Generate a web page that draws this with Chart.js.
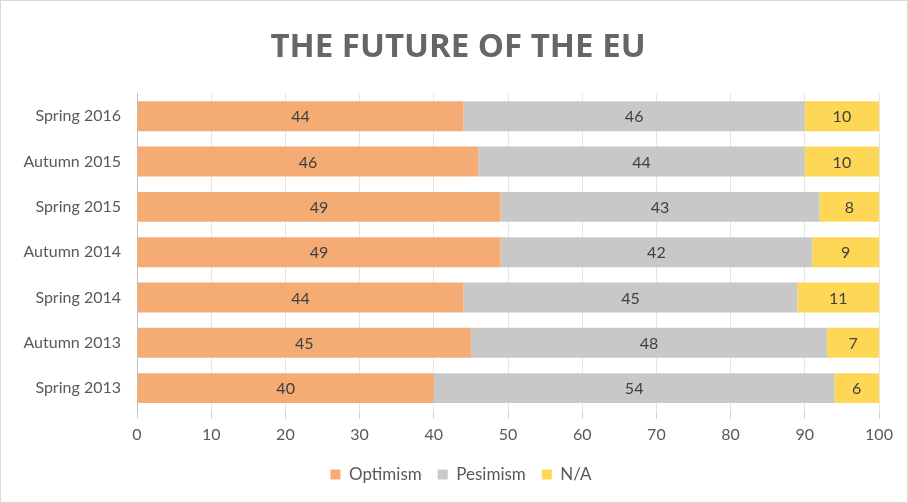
<!DOCTYPE html>
<html>
<head>
<meta charset="utf-8">
<script src="https://cdn.jsdelivr.net/npm/chart.js@4"></script>
<style>
  html, body { margin: 0; padding: 0; background: #fff; }
  #wrap { position: relative; width: 908px; height: 503px; box-sizing: border-box; border: 1px solid #d9d9d9; }
</style>
</head>
<body>
<div id="wrap"><canvas id="euChart" width="906" height="501"></canvas></div>
<script>
// categories, top to bottom
const periods = ['Spring 2016', 'Autumn 2015', 'Spring 2015', 'Autumn 2014', 'Spring 2014', 'Autumn 2013', 'Spring 2013'];
const optimism = [44, 46, 49, 49, 44, 45, 40];
const pesimism = [46, 44, 43, 42, 45, 48, 54];
const notAnswered = [10, 10, 8, 9, 11, 7, 6];
const xTicks = [0, 10, 20, 30, 40, 50, 60, 70, 80, 90, 100];

const labelFont = "Lato, 'Open Sans', sans-serif";

// draws the value in the middle of each bar segment
const barValues = {
    id: 'barValues',
    afterDatasetsDraw(chart) {
        const ctx = chart.ctx;
        ctx.save();
        ctx.font = '16px ' + labelFont;
        ctx.fillStyle = '#404040';
        ctx.textAlign = 'center';
        ctx.textBaseline = 'middle';
        chart.data.datasets.forEach((ds, i) => {
            chart.getDatasetMeta(i).data.forEach((bar, j) => {
                const mid = (bar.x + bar.base) / 2;
                ctx.fillText(ds.data[j], mid, bar.y + 1);
            });
        });
        ctx.restore();
    }
};

// title and legend sit a little right of the canvas centre in the original
const nudgeBoxes = {
    id: 'nudgeBoxes',
    afterLayout(chart) {
        chart.titleBlock.left += 13;
        chart.titleBlock.right += 13;
        chart.legend.left += 16;
        chart.legend.right += 16;
    }
};

const ctx = document.getElementById('euChart').getContext('2d');
const euChart = new Chart(ctx, {
    type: 'bar',
    data: {
        labels: periods,
        datasets: [{
            label: 'Optimism',
            data: optimism,
            backgroundColor: '#F4AC74'
        }, {
            label: 'Pesimism',
            data: pesimism,
            backgroundColor: '#C8C8C8'
        }, {
            label: 'N/A',
            data: notAnswered,
            backgroundColor: '#FFD757'
        }]
    },
    options: {
        indexAxis: 'y',
        responsive: false,
        animation: false,
        datasets: {
            bar: { barPercentage: 0.66, categoryPercentage: 1 }
        },
        layout: { padding: { left: 10, right: 28, top: 0, bottom: 9 } },
        scales: {
            x: {
                stacked: true,
                min: 0,
                max: 100,
                afterBuildTicks(axis) { axis.ticks = xTicks.map(v => ({ value: v })); },
                grid: { color: '#e6e6e6', tickLength: 8, drawTicks: true, tickColor: '#d0d0d0' },
                border: { display: false },
                ticks: { color: '#595959', font: { family: labelFont, size: 16 }, padding: 6 }
            },
            y: {
                stacked: true,
                afterFit(axis) { axis.width = 126; },
                grid: { display: false, drawTicks: false },
                border: { display: true, color: '#bfbfbf', width: 1 },
                ticks: { color: '#595959', font: { family: labelFont, size: 16 }, padding: 16 }
            }
        },
        plugins: {
            title: {
                display: true,
                text: 'THE FUTURE OF THE EU',
                color: '#666666',
                font: { family: "'Open Sans', sans-serif", size: 33, weight: 'bold' },
                padding: { top: 27, bottom: 26 }
            },
            legend: {
                position: 'bottom',
                labels: {
                    color: '#595959',
                    font: { family: labelFont, size: 17 },
                    boxWidth: 10,
                    boxHeight: 10,
                    padding: 16
                }
            },
            tooltip: { enabled: false }
        }
    },
    plugins: [barValues, nudgeBoxes]
});
</script>
</body>
</html>
